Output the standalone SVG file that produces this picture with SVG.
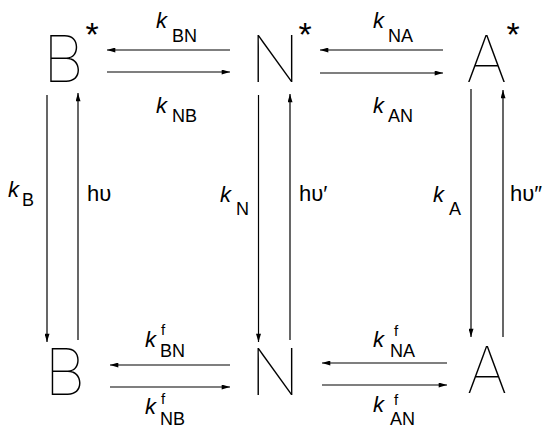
<svg xmlns="http://www.w3.org/2000/svg" width="543" height="428" viewBox="0 0 543 428">
  <style>
    .big { font-family: "Inter", "DejaVu Sans", "Liberation Sans", sans-serif; font-weight: 100; font-size: 64px; fill: #000; text-anchor: middle; }
    .star { font-family: "Liberation Sans", sans-serif; font-size: 34px; fill: #000; text-anchor: middle; }
    .k { font-family: "Liberation Sans", sans-serif; font-style: italic; font-size: 22px; fill: #000; }
    .sub { font-family: "Liberation Sans", sans-serif; font-size: 18px; fill: #000; }
    .sup { font-family: "Liberation Sans", sans-serif; font-size: 15px; fill: #000; }
    .hv { font-family: "Liberation Sans", sans-serif; font-size: 22px; fill: #000; }
    .ln { stroke: #000; stroke-width: 1.2; fill: none; marker-end: url(#head); }
  </style>
  <defs>
    <marker id="head" viewBox="0 0 10 6" refX="10" refY="3" markerUnits="userSpaceOnUse" markerWidth="9" markerHeight="5" orient="auto">
      <path d="M0,0 L10,3 L0,6 Z" fill="#000"/>
    </marker>
  </defs>

  <!-- excited states -->
  <g id="Bstar"><text class="big" x="63.5" y="82">B</text><text class="star" x="92" y="46">*</text></g>
  <g id="Nstar"><text class="big" x="275" y="82">N</text><text class="star" x="305" y="46">*</text></g>
  <g id="Astar"><text class="big" x="486.5" y="82">A</text><text class="star" x="513" y="46">*</text></g>

  <!-- ground states -->
  <g id="B"><text class="big" x="65" y="395">B</text></g>
  <g id="N"><text class="big" x="275" y="395">N</text></g>
  <g id="A"><text class="big" x="487" y="393">A</text></g>

  <g id="connectors">
    <!-- excited-state exchange -->
    <line class="ln" x1="230" y1="50" x2="107" y2="50"/>
    <line class="ln" x1="107" y1="72" x2="230" y2="72"/>
    <line class="ln" x1="443" y1="50" x2="320" y2="50"/>
    <line class="ln" x1="320" y1="73" x2="443" y2="73"/>
    <!-- ground-state exchange -->
    <line class="ln" x1="230" y1="365" x2="110" y2="365"/>
    <line class="ln" x1="110" y1="387" x2="230" y2="387"/>
    <line class="ln" x1="447" y1="363" x2="322" y2="363"/>
    <line class="ln" x1="322" y1="385" x2="447" y2="385"/>
    <!-- decay and excitation -->
    <line class="ln" x1="47" y1="95" x2="47" y2="342"/>
    <line class="ln" x1="78" y1="340" x2="78" y2="93"/>
    <line class="ln" x1="258.5" y1="95" x2="258.5" y2="342"/>
    <line class="ln" x1="290" y1="340" x2="290" y2="94"/>
    <line class="ln" x1="471" y1="89" x2="471" y2="337"/>
    <line class="ln" x1="503" y1="337" x2="503" y2="90"/>
  </g>

  <!-- rate constant labels -->
  <g id="labels">
    <text class="k" x="156" y="28">k</text><text class="sub" x="172" y="42">BN</text>
    <text class="k" x="156" y="113">k</text><text class="sub" x="172" y="122">NB</text>
    <text class="k" x="373" y="28">k</text><text class="sub" x="388" y="42">NA</text>
    <text class="k" x="373" y="113">k</text><text class="sub" x="388" y="122">AN</text>

    <text class="k" x="8" y="197">k</text><text class="sub" x="22" y="206">B</text>
    <text class="hv" x="87" y="201">hυ</text>
    <text class="k" x="220" y="202">k</text><text class="sub" x="236" y="215">N</text>
    <text class="hv" x="299" y="201">hυ′</text>
    <text class="k" x="433" y="202">k</text><text class="sub" x="449" y="215">A</text>
    <text class="hv" x="510" y="201">hυ″</text>

    <text class="k" x="145" y="347">k</text><text class="sup" x="161" y="335">f</text><text class="sub" x="160" y="357">BN</text>
    <text class="k" x="145" y="414">k</text><text class="sup" x="161" y="404">f</text><text class="sub" x="160" y="425">NB</text>
    <text class="k" x="373" y="347">k</text><text class="sup" x="394" y="336">f</text><text class="sub" x="390" y="357">NA</text>
    <text class="k" x="373" y="412">k</text><text class="sup" x="394" y="405">f</text><text class="sub" x="390" y="425">AN</text>
  </g>
</svg>
